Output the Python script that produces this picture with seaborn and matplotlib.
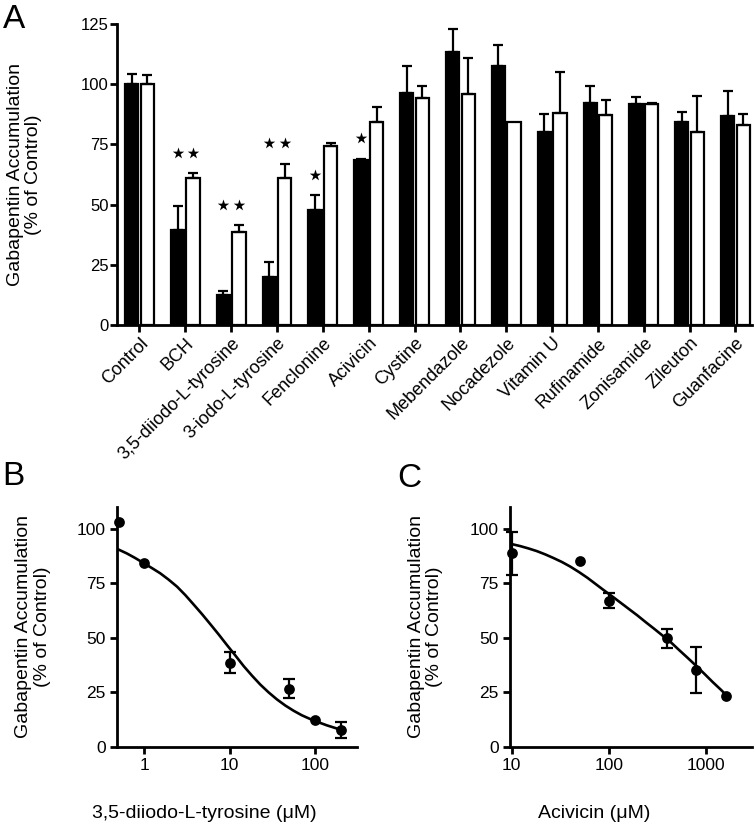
import numpy as np
import pandas as pd
import matplotlib
matplotlib.use("Agg")
import matplotlib.pyplot as plt
import seaborn as sns

# ---- panel A: accumulation for each compound (two conditions, mean and upper SEM)
compounds = ["Control", "BCH", "3,5-diiodo-L-tyrosine", "3-iodo-L-tyrosine",
             "Fenclonine", "Acivicin", "Cystine", "Mebendazole", "Nocadezole",
             "Vitamin U", "Rufinamide", "Zonisamide", "Zileuton", "Guanfacine"]
black_mean = [100, 39.5, 12.5, 20.1, 47.8, 68.5, 96.5, 113.2, 107.6, 80.3, 92.3, 91.6, 84.2, 86.8]
black_err = [4.2, 10.1, 1.8, 5.9, 6.2, 0.5, 11.1, 9.7, 8.5, 7.2, 7.0, 2.9, 4.4, 10.4]
white_mean = [100, 60.9, 38.5, 61.2, 74.3, 84.4, 94.1, 95.8, 84.4, 88.2, 87.2, 91.8, 80.1, 83.1]
white_err = [4.0, 2.1, 3.0, 5.7, 1.1, 6.3, 5.2, 15.2, 0.0, 16.9, 6.2, 0.3, 15.1, 4.7]
black_star = [0, 1, 1, 1, 1, 1, 0, 0, 0, 0, 0, 0, 0, 0]
white_star = [0, 1, 1, 1, 0, 0, 0, 0, 0, 0, 0, 0, 0, 0]

# ---- panel B: 3,5-diiodo-L-tyrosine dose response (points + fitted curve)
b_conc = [0.5, 1, 10, 50, 100, 200]
b_mean = [102.9, 84.2, 38.7, 26.8, 12.6, 7.8]
b_err = [0.0, 0.0, 4.8, 4.3, 0.0, 3.8]
b_fit_x = [0.487, 0.626, 0.784, 0.982, 1.23, 1.54, 1.93, 2.42, 3.03, 3.79, 4.75, 5.94,
           7.44, 9.32, 11.7, 14.6, 18.3, 22.9, 28.7, 35.9, 45.0, 56.3, 70.5, 88.3,
           110.6, 138.5, 173.4, 198.6]
b_fit_y = [90.7, 88.7, 86.6, 84.3, 82.0, 79.6, 76.7, 73.5, 69.6, 65.3, 60.9, 56.3,
           51.6, 46.7, 41.9, 37.1, 32.7, 28.6, 25.0, 21.8, 19.0, 16.6, 14.5, 12.8,
           11.3, 9.9, 8.7, 7.9]

# ---- panel C: acivicin dose response
c_conc = [10, 50, 100, 400, 800, 1600]
c_mean = [88.7, 85.1, 67.1, 49.9, 35.2, 23.3]
c_err = [10.0, 0.0, 3.3, 4.3, 10.6, 0.0]
c_fit_x = [10.0, 12.2, 14.9, 18.1, 22.1, 27.0, 32.9, 40.1, 49.3, 60.1, 73.3, 89.4,
           108.9, 132.9, 162.0, 197.6, 240.9, 293.8, 358.4, 436.9, 533.0, 649.8,
           792.5, 966.5, 1178, 1437, 1544]
c_fit_y = [93.0, 92.1, 91.0, 89.8, 88.3, 86.6, 84.8, 82.7, 80.2, 77.6, 74.7, 71.8,
           69.0, 66.1, 63.2, 60.3, 57.2, 54.2, 51.1, 48.0, 44.4, 40.9, 37.3, 33.6,
           29.8, 26.2, 24.8]

sns.set_style("ticks")
plt.rcParams['font.family'] = ['Liberation Sans', 'DejaVu Sans']
plt.rcParams.update({
    'text.color': 'black', 'axes.labelcolor': 'black', 'axes.edgecolor': 'black',
    'xtick.color': 'black', 'ytick.color': 'black',
    'axes.linewidth': 2.0, 'xtick.major.width': 2.0, 'ytick.major.width': 2.0,
    'xtick.major.size': 5, 'ytick.major.size': 5,
})

W, H = 756, 827
fig = plt.figure(figsize=(W / 100, H / 100), dpi=100)


def px_axes(left, top, right, bottom):
    return fig.add_axes([left / W, 1 - bottom / H, (right - left) / W, (bottom - top) / H])


ylab = "Gabapentin Accumulation\n(% of Control)"

# ================= panel A
axA = px_axes(117, 24, 752, 325)
dfA = pd.DataFrame({
    "compound": compounds * 2,
    "value": black_mean + white_mean,
    "cond": ["black"] * len(compounds) + ["white"] * len(compounds),
})
sns.barplot(data=dfA, x="compound", y="value", hue="cond", palette=["black", "white"],
            edgecolor="black", linewidth=1.6, width=0.68, gap=0.15, errorbar=None,
            legend=False, ax=axA)

for cont, mean, err in zip(axA.containers, [black_mean, white_mean], [black_err, white_err]):
    xs = np.array([p.get_x() + p.get_width() / 2 for p in cont.patches])
    m = np.array(mean)
    e = np.array(err)
    keep = e > 0
    axA.errorbar(xs[keep], m[keep], yerr=[np.zeros(keep.sum()), e[keep]], fmt="none",
                 ecolor="black", elinewidth=1.6, capsize=3.5, capthick=1.6, zorder=1)

# stars sit on a common level above the tallest starred error bar in each group
tops_b = np.array(black_mean) + np.array(black_err)
tops_w = np.array(white_mean) + np.array(white_err)
bx = np.array([p.get_x() + p.get_width() / 2 for p in axA.containers[0].patches])
wx = np.array([p.get_x() + p.get_width() / 2 for p in axA.containers[1].patches])
for i in range(len(compounds)):
    level_tops = []
    if black_star[i]:
        level_tops.append(tops_b[i])
    if white_star[i]:
        level_tops.append(tops_w[i])
    if not level_tops:
        continue
    lev = max(level_tops) + 8.5
    if black_star[i]:
        axA.scatter(bx[i], lev, marker="*", s=75, color="black", linewidths=0)
    if white_star[i]:
        axA.scatter(wx[i], lev, marker="*", s=75, color="black", linewidths=0)

axA.set_ylim(0, 125)
axA.set_xlim(-0.49, 13.36)
axA.set_yticks([0, 25, 50, 75, 100, 125])
axA.set_xlabel("")
axA.set_ylabel(ylab, fontsize=14, va="center", linespacing=1.1)
axA.yaxis.set_label_coords(-0.146, 0.5)
axA.tick_params(axis="y", labelsize=12, pad=1)
axA.tick_params(axis="x", labelsize=13, pad=2)
for lab in axA.get_xticklabels():
    lab.set_rotation(45)
    lab.set_ha("right")
    lab.set_rotation_mode("anchor")
sns.despine(ax=axA)

# ================= panels B and C


def dose_panel(ax, conc, mean, err, fx, fy, xlim, xticks, xlabel):
    ax.set_xscale("log")
    sns.lineplot(x=fx, y=fy, color="black", linewidth=1.9, ax=ax)
    e = np.array(err)
    keep = e > 0
    ax.errorbar(np.array(conc)[keep], np.array(mean)[keep], yerr=e[keep], fmt="none",
                ecolor="black", elinewidth=1.6, capsize=4, capthick=1.6, clip_on=False)
    sns.scatterplot(x=conc, y=mean, color="black", s=60, linewidth=0, ax=ax, clip_on=False, zorder=5)
    ax.set_xlim(*xlim)
    ax.set_ylim(0, 110)
    ax.set_yticks([0, 25, 50, 75, 100])
    ax.set_xticks(xticks)
    ax.set_xticklabels([str(t) for t in xticks])
    ax.minorticks_off()
    ax.tick_params(axis="both", labelsize=12.5, pad=3)
    ax.set_ylabel(ylab, fontsize=14, va="center", linespacing=1.1)
    ax.yaxis.set_label_coords(-0.35, 0.5)
    ax.set_xlabel(xlabel, fontsize=14, va="center")
    sns.despine(ax=ax)


axB = px_axes(117, 507, 357, 747)
dose_panel(axB, b_conc, b_mean, b_err, b_fit_x, b_fit_y, (0.479, 311), [1, 10, 100],
           "3,5-diiodo-L-tyrosine (\u03bcM)")
axB.xaxis.set_label_coords(0.364, -0.275)

axC = px_axes(510, 507, 752, 747)
dose_panel(axC, c_conc, c_mean, c_err, c_fit_x, c_fit_y, (9.6, 3000), [10, 100, 1000],
           "Acivicin (\u03bcM)")
axC.xaxis.set_label_coords(0.348, -0.275)

# panel letters
fig.text(3 / W, 1 - 28 / H, "A", fontsize=24, va="baseline")
fig.text(2 / W, 1 - 485 / H, "B", fontsize=24, va="baseline")
fig.text(397 / W, 1 - 487 / H, "C", fontsize=24, va="baseline")

fig.savefig("out.png", dpi=100)
